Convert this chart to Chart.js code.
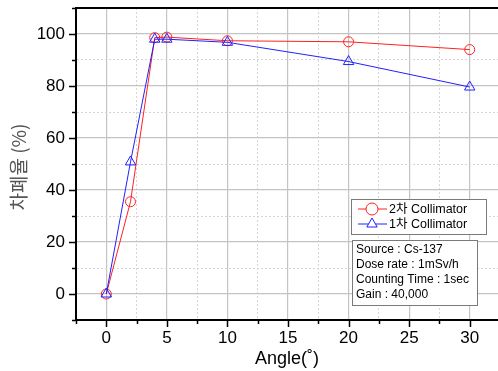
<!DOCTYPE html>
<html>
<head>
<meta charset="utf-8">
<script src="https://cdn.jsdelivr.net/npm/chart.js@4.4.0/dist/chart.umd.min.js"></script>
<style>
html,body{margin:0;padding:0;background:#fff;overflow:hidden;}
#wrap{width:507px;height:371px;}
</style>
</head>
<body>
<div id="wrap"><canvas id="c" width="507" height="371"></canvas></div>
<script>
const angles = [0, 2, 4, 5, 10, 20, 30];
const secondary = [0, 35.5, 98.6, 98.8, 97.4, 97.0, 94.0];
const primary = [0, 50.8, 98.0, 98.0, 96.8, 89.4, 79.6];
const seriesNames = ['2차 Collimator', '1차 Collimator'];
const xTickLabels = [0, 5, 10, 15, 20, 25, 30];
const yTickLabels = [0, 20, 40, 60, 80, 100];
const infoLines = ['Source : Cs-137', 'Dose rate : 1mSv/h', 'Counting Time : 1sec', 'Gain : 40,000'];
const xTitle = 'Angle(˚)';
const yTitle = '차폐율 (%)';

const FONT = '"Liberation Sans", Arial, sans-serif';
const MIXED = '"Liberation Sans", "Noto Sans CJK KR", sans-serif';

function pts(ys){ return angles.map((a,i)=>({x:a,y:ys[i]})); }

const extras = {
  id: 'extras',
  afterDraw(chart){
    const ctx = chart.ctx;
    const xs = chart.scales.x, ys = chart.scales.y;
    const ca = chart.chartArea;
    ctx.save();
    // tick marks
    ctx.strokeStyle = '#000';
    ctx.lineWidth = 1.5;
    ctx.beginPath();
    for (let v = -10; v <= 110; v += 10) {
      const p = Math.round(ys.getPixelForValue(v)) + 0.5;
      const len = (v % 20 === 0) ? 7 : 4;
      ctx.moveTo(ca.left - len, p); ctx.lineTo(ca.left, p);
    }
    for (let v = -2.5; v <= 32.5; v += 2.5) {
      const p = Math.round(xs.getPixelForValue(v)) + 0.5;
      const len = (v % 5 === 0) ? 7 : 4;
      ctx.moveTo(p, ca.bottom); ctx.lineTo(p, ca.bottom + len);
    }
    ctx.stroke();
    // titles
    ctx.fillStyle = '#000';
    ctx.font = '18px ' + FONT;
    ctx.textAlign = 'center';
    ctx.textBaseline = 'middle';
    ctx.fillText(xTitle, 287, 359);
    ctx.save();
    ctx.translate(19, 167);
    ctx.rotate(-Math.PI/2);
    ctx.fillStyle = '#555';
    ctx.font = '19px "Noto Sans CJK KR", ' + FONT;
    ctx.fillText(yTitle, 0, 0);
    ctx.restore();
    // legend box
    ctx.fillStyle = '#fff';
    ctx.fillRect(351, 199, 136, 35);
    ctx.strokeStyle = '#7a7a7a';
    ctx.lineWidth = 1;
    ctx.strokeRect(351.5, 199.5, 135, 35);
    const rows = [209, 224];
    chart.data.datasets.forEach((ds, i) => {
      const y = rows[i];
      ctx.strokeStyle = ds.borderColor;
      ctx.lineWidth = 1;
      ctx.beginPath(); ctx.moveTo(358, y); ctx.lineTo(387, y); ctx.stroke();
      ctx.fillStyle = '#fff';
      Chart.helpers.drawPoint(ctx, {pointStyle: ds.pointStyle, radius: 6, borderWidth: 1}, 372, y);
      ctx.fillStyle = '#000';
      ctx.font = '12.5px ' + MIXED;
      ctx.textAlign = 'left';
      ctx.fillText(ds.label, 389, y + 1);
    });
    // info box
    ctx.fillStyle = '#fff';
    ctx.fillRect(352, 240, 126, 65);
    ctx.strokeStyle = '#7a7a7a';
    ctx.strokeRect(352.5, 240.5, 125, 65);
    ctx.fillStyle = '#000';
    ctx.font = '12px ' + FONT;
    ctx.textAlign = 'left';
    infoLines.forEach((t, i) => ctx.fillText(t, 356, 250 + i * 15));
    ctx.restore();
  }
};

new Chart(document.getElementById('c'), {
  type: 'scatter',
  data: {
    datasets: [
      {label: seriesNames[0], data: pts(secondary), showLine: true, borderColor: '#ff2020', backgroundColor: 'rgba(255,255,255,0)',
       borderWidth: 1, pointStyle: 'circle', pointRadius: 5, pointBorderWidth: 1, pointBorderColor: '#ff2020', pointBackgroundColor: 'rgba(255,255,255,0)', order: 1},
      {label: seriesNames[1], data: pts(primary), showLine: true, borderColor: '#2020ff', backgroundColor: 'rgba(255,255,255,0)',
       borderWidth: 1, pointStyle: 'triangle', pointRadius: 6, pointBorderWidth: 1, pointBorderColor: '#2020ff', pointBackgroundColor: 'rgba(255,255,255,0)', order: 0}
    ]
  },
  options: {
    responsive: false,
    animation: false,
    events: [],
    layout: {padding: {top: 8, left: 0, right: 0, bottom: 0}},
    plugins: {legend: {display: false}, tooltip: {enabled: false}},
    scales: {
      x: {
        type: 'linear', min: -2.5, max: 32.5,
        afterFit(s){ s.height = 51; s.paddingLeft = 0; s.paddingRight = 0; },
        afterBuildTicks(s){ const t=[]; for(let v=-2.5; v<=32.5; v+=2.5) t.push({value:v}); s.ticks = t; },
        ticks: {autoSkip: false, maxRotation: 0, padding: 8, color: '#000', font: {size: 17, family: FONT},
          callback: v => xTickLabels.includes(v) ? String(v) : ''},
        grid: {drawTicks: false,
          color: c => (c.tick && c.tick.value % 5 === 0) ? '#c4c4c4' : '#d6d6d6',
          lineWidth: c => (c.tick && c.tick.value % 5 === 0) ? 1.2 : 1},
        border: {display: true, color: '#000', width: 2,
          dash: c => (c.tick && c.tick.value % 5 !== 0) ? [2, 2] : []}
      },
      y: {
        type: 'linear', min: -10, max: 110,
        afterFit(s){ s.width = 76; s.paddingTop = 0; s.paddingBottom = 0; },
        afterBuildTicks(s){ const t=[]; for(let v=-10; v<=110; v+=10) t.push({value:v}); s.ticks = t; },
        ticks: {autoSkip: false, padding: 11, color: '#000', font: {size: 17, family: FONT},
          callback: v => yTickLabels.includes(v) ? String(v) : ''},
        grid: {drawTicks: false,
          color: c => (c.tick && c.tick.value === 110) ? '#000' : ((c.tick && c.tick.value % 20 === 0) ? '#c4c4c4' : '#d6d6d6'),
          lineWidth: c => (c.tick && c.tick.value === 110) ? 2 : ((c.tick && c.tick.value % 20 === 0) ? 1.2 : 1)},
        border: {display: true, color: '#000', width: 2,
          dash: c => (c.tick && c.tick.value % 20 !== 0 && c.tick.value !== 110) ? [2, 2] : []}
      }
    }
  },
  plugins: [extras]
});
</script>
</body>
</html>
